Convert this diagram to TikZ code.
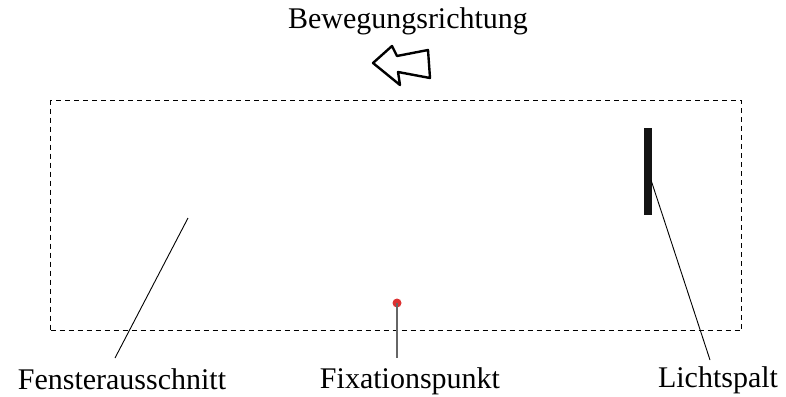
\documentclass[tikz,border=0pt]{standalone}
\usepackage{fontspec}
\setmainfont{Liberation Serif}
\definecolor{fixred}{RGB}{220,50,50}
\begin{document}
\begin{tikzpicture}[x=1pt,y=-1pt,
  lbl/.style={font=\fontsize{30}{34}\selectfont, inner sep=0pt, anchor=base},
  leader/.style={draw=black, line width=0.9pt},
  frame/.style={draw=black, line width=1.3pt, dash pattern=on 5pt off 4pt}]
\useasboundingbox (0,0) rectangle (786,396);
% window
\node[frame, minimum width=691pt, minimum height=230pt, inner sep=0pt, anchor=north west] (win) at (50,100) {};
% movement arrow
\draw[line width=2.4pt, line join=round] (373,63) -- (392,46) -- (397,56) -- (428,50) -- (430,78) -- (398,72) -- (400,85) -- cycle;
\node[lbl] (bew) at (408,29) {Bewegungsrichtung};
% slit
\node[fill=black!92, minimum width=8pt, minimum height=87pt, inner sep=0pt, anchor=north west] (slit) at (644,128) {};
\coordinate (slitpt) at (651,180);
\node[lbl] (licht) at (718,387) {Lichtspalt};
\coordinate (lichtend) at (710,360);
\draw[leader] (slitpt) -- (lichtend);
% fixation point
\node[circle, fill=fixred, minimum size=9pt, inner sep=0pt] (fix) at (397,303) {};
\node[lbl] (fixl) at (410,388) {Fixationspunkt};
\coordinate (fixend) at (397,358);
\draw[draw=black!60, line width=1.2pt] (fix.center) -- (fixend);
% window label
\coordinate (fenstart) at (188,218);
\coordinate (fenend) at (115,358);
\draw[leader] (fenstart) -- (fenend);
\node[lbl] (fen) at (122,389) {Fensterausschnitt};
\end{tikzpicture}
\end{document}
